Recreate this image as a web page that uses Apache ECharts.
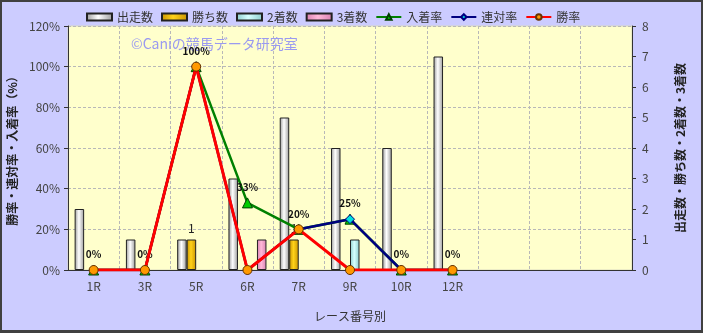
<!DOCTYPE html>
<html>
<head>
<meta charset="utf-8">
<script src="https://cdn.jsdelivr.net/npm/echarts@6/dist/echarts.min.js"></script>
<style>
  html, body { margin: 0; padding: 0; }
  #chart { width: 703px; height: 333px; box-sizing: border-box; border: 2px solid #404040; border-bottom-width: 3px; background: #ccccff; }
</style>
</head>
<body>
<div id="chart"></div>
<script>
// レース番号別
var categories = ['1R', '3R', '5R', '6R', '7R', '9R', '10R', '12R', '', '', ''];
var runs   = [2, 1, 1, 3, 5, 4, 4, 7];   // 出走数
var wins   = [0, 0, 1, 0, 1, 0, 0, 0];   // 勝ち数
var second = [0, 0, 0, 0, 0, 1, 0, 0];   // 2着数
var third  = [0, 0, 0, 1, 0, 0, 0, 0];   // 3着数
var placeRate  = [0, 0, 100, 33, 20, 25, 0, 0];  // 入着率
var rentaiRate = [0, 0, 100, 0, 20, 25, 0, 0];   // 連対率
var winRate    = [0, 0, 100, 0, 20, 0, 0, 0];    // 勝率
var leftTicks  = [0, 20, 40, 60, 80, 100, 120];
var rightTicks = [0, 1, 2, 3, 4, 5, 6, 7, 8];

var font = '"Noto Sans CJK JP", sans-serif';

function barGrad(edge, mid) {
  return new echarts.graphic.LinearGradient(0, 0, 1, 0, [
    { offset: 0, color: edge },
    { offset: 0.45, color: mid },
    { offset: 1, color: edge }
  ]);
}
// 0 の棒は描かない
function noZero(arr) {
  return arr.map(function (v) { return v > 0 ? v : null; });
}

var chart = echarts.init(document.getElementById('chart'));
chart.setOption({
  animation: false,
  textStyle: { fontFamily: font },
  legend: {
    top: 4,
    left: 79,
    itemWidth: 25,
    itemHeight: 7,
    itemGap: 8,
    textStyle: { fontSize: 12, color: '#333', fontFamily: font },
    data: [
      { name: '出走数', icon: 'rect' },
      { name: '勝ち数', icon: 'rect' },
      { name: '2着数', icon: 'rect' },
      { name: '3着数', icon: 'rect' },
      '入着率', '連対率', '勝率'
    ]
  },
  graphic: [{
    type: 'text',
    left: 129,
    top: 35,
    z: 1,
    style: { text: '©Caniの競馬データ研究室', fill: '#9a9af0', font: '14px ' + font }
  }],
  grid: {
    left: 66, right: 69, top: 24, bottom: 60,
    outerBoundsMode: 'none',
    containLabel: false,
    show: true, backgroundColor: '#ffffcc', borderColor: '#d8d8c0', borderWidth: 1
  },
  xAxis: {
    type: 'category',
    data: categories,
    name: 'レース番号別',
    nameLocation: 'middle',
    nameGap: 40,
    nameTextStyle: { fontSize: 12, color: '#333' },
    axisLine: { lineStyle: { color: '#333', width: 1 } },
    axisTick: { show: false },
    axisLabel: { fontSize: 12, color: '#444', margin: 10 },
    splitLine: { show: true, interval: 0, lineStyle: { type: [3, 2], color: '#b8b8b8' } }
  },
  yAxis: [{
    type: 'value',
    min: 0, max: 120, interval: 20,
    name: '勝率・連対率・入着率（%）',
    nameLocation: 'middle',
    nameGap: 36,
    nameRotate: 90,
    nameTextStyle: { fontSize: 12, color: '#222', fontWeight: 'bold' },
    axisLine: { show: true, lineStyle: { color: '#333' } },
    axisTick: { show: true, length: 4, lineStyle: { color: '#333' } },
    axisLabel: {
      fontSize: 12, color: '#444', margin: 8,
      formatter: function (v) { return leftTicks.indexOf(v) >= 0 ? v + '%' : ''; }
    },
    splitLine: { show: true, lineStyle: { type: [3, 2], color: '#b8b8b8' } }
  }, {
    type: 'value',
    min: 0, max: 8, interval: 1,
    name: '出走数・勝ち数・2着数・3着数',
    nameLocation: 'middle',
    nameGap: 42,
    nameRotate: 90,
    nameTextStyle: { fontSize: 12, color: '#222', fontWeight: 'bold' },
    axisLine: { show: true, lineStyle: { color: '#333' } },
    axisTick: { show: true, length: 4, lineStyle: { color: '#333' } },
    axisLabel: {
      fontSize: 12, color: '#444', margin: 10,
      formatter: function (v) { return rightTicks.indexOf(v) >= 0 ? String(v) : ''; }
    },
    splitLine: { show: false }
  }],
  series: [
    {
      name: '出走数', type: 'bar', yAxisIndex: 1, barWidth: 9.5, barGap: '0%',
      itemStyle: { color: barGrad('#9a9a9a', '#ffffff'), borderColor: '#222', borderWidth: 1 },
      data: noZero(runs)
    },
    {
      name: '勝ち数', type: 'bar', yAxisIndex: 1, barWidth: 9.5, barGap: '0%',
      itemStyle: { color: barGrad('#c99400', '#ffd21a'), borderColor: '#222', borderWidth: 1 },
      label: {
        show: true, position: 'top', distance: 5, fontSize: 12, color: '#222',
        formatter: function (p) { return p.value > 0 ? String(p.value) : ''; }
      },
      data: noZero(wins)
    },
    {
      name: '2着数', type: 'bar', yAxisIndex: 1, barWidth: 9.5, barGap: '0%',
      itemStyle: { color: barGrad('#8ccccc', '#d6ffff'), borderColor: '#222', borderWidth: 1 },
      data: noZero(second)
    },
    {
      name: '3着数', type: 'bar', yAxisIndex: 1, barWidth: 9.5, barGap: '0%',
      itemStyle: { color: barGrad('#d880b0', '#ffb8d8'), borderColor: '#222', borderWidth: 1 },
      data: noZero(third)
    },
    {
      name: '入着率', type: 'line', yAxisIndex: 0, z: 3,
      symbol: 'triangle', symbolSize: 10,
      lineStyle: { color: '#008000', width: 2.5 },
      itemStyle: { color: '#00cc00', borderColor: '#004000', borderWidth: 1 },
      label: {
        show: true, position: 'top', distance: 5, fontSize: 10, fontWeight: 'bold', color: '#111',
        formatter: function (p) { return p.value + '%'; }
      },
      data: placeRate
    },
    {
      name: '連対率', type: 'line', yAxisIndex: 0, z: 4,
      symbol: 'diamond', symbolSize: 9,
      lineStyle: { color: '#000080', width: 2.5 },
      itemStyle: { color: '#00e0e0', borderColor: '#000080', borderWidth: 1 },
      data: rentaiRate
    },
    {
      name: '勝率', type: 'line', yAxisIndex: 0, z: 5,
      symbol: 'circle', symbolSize: 9,
      lineStyle: { color: '#ff0000', width: 3 },
      itemStyle: { color: '#ff9900', borderColor: '#663300', borderWidth: 1 },
      data: winRate
    }
  ]
});
</script>
</body>
</html>
